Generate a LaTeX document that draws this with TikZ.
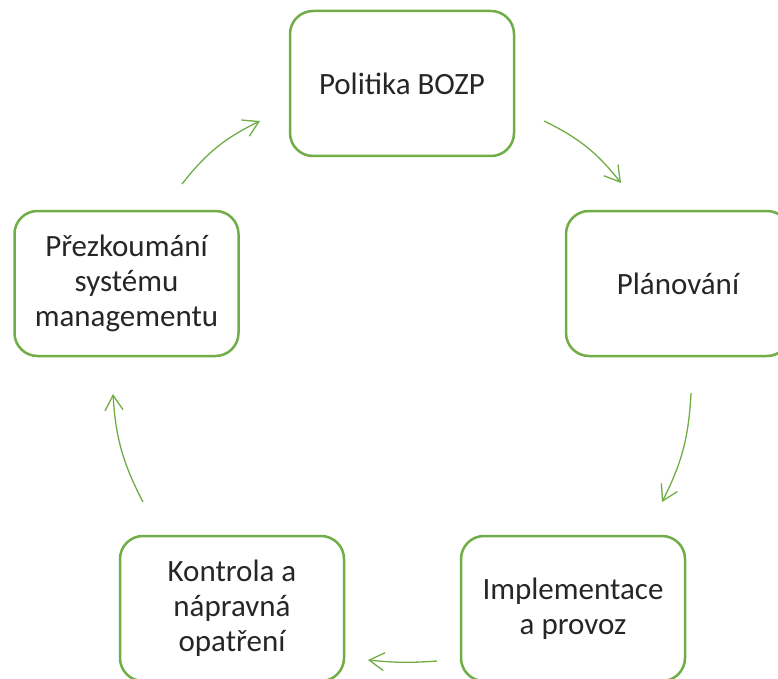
\documentclass[tikz,border=0pt]{standalone}
\usepackage{fontspec}
\setmainfont{Carlito}
\usetikzlibrary{arrows.meta}
\definecolor{grn}{HTML}{70AD47}
\definecolor{txt}{HTML}{262626}
\begin{document}
\begin{tikzpicture}[x=1pt,y=-1pt,
  box/.style={draw=grn, line width=2.5pt, rounded corners=23pt, minimum width=224pt, minimum height=145pt, align=center, font=\fontsize{31}{35}\selectfont, text=txt, inner sep=0pt},
  flow/.style={draw=grn, line width=1.3pt, -{Straight Barb[length=15pt,width=18pt]}}]
\useasboundingbox (0,0) rectangle (778,679);
\node[box] (pol) at (402,83.5) {Politika BOZP};
\node[box] (plan) at (678,283.5) {Plánování};
\node[box] (impl) at (573,608.5) {Implementace\\a provoz};
\node[box] (kon) at (232,608.5) {Kontrola a\\nápravná\\opatření};
\node[box] (prez) at (126.5,283.5) {Přezkoumání\\systému\\managementu};
\coordinate (a1s) at (544,121); \coordinate (a1e) at (621,183);
\coordinate (a2s) at (691,393); \coordinate (a2e) at (662,502);
\coordinate (a3s) at (437,661); \coordinate (a3e) at (368,660);
\coordinate (a4s) at (143,502); \coordinate (a4e) at (113,394);
\coordinate (a5s) at (182,184); \coordinate (a5e) at (260,121);
\draw[flow] (a1s) to[bend left=13] (a1e);
\draw[flow] (a2s) to[bend left=12] (a2e);
\draw[flow] (a3s) to[bend left=5] (a3e);
\draw[flow] (a4s) to[bend left=12] (a4e);
\draw[flow] (a5s) to[bend left=13] (a5e);
\end{tikzpicture}
\end{document}
